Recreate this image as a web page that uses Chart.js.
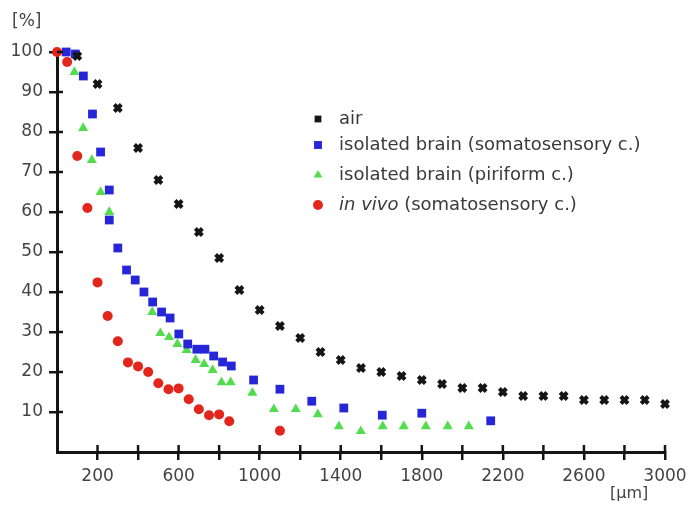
<!DOCTYPE html>
<html><head><meta charset="utf-8">
<script src="https://cdn.jsdelivr.net/npm/chart.js@4"></script>
<style>html,body{margin:0;padding:0;background:#fff}#wrap{width:690px;height:507px}</style>
</head><body><div id="wrap"><canvas id="c" width="690" height="507"></canvas></div>
<script>
const airX = [100,200,300,400,500,600,700,800,900,1000,1100,1200,1300,1400,1500,1600,1700,1800,1900,2000,2100,2200,2300,2400,2500,2600,2700,2800,2900,3000];
const airY = [99,92,86,76,68,62,55,48.5,40.5,35.5,31.5,28.5,25,23,21,20,19,18,17,16,16,15,14,14,14,13,13,13,13,12];
const blueX = [45,90,130,175,215,258,258,300,343,386,429,472,516,558,601,645,690,730,773,817,860,970,1100,1257,1415,1605,1800,2140];
const blueY = [100,99.5,94,84.5,75,65.5,58,51,45.5,43,40,37.5,35,33.5,29.5,27,25.7,25.7,24,22.5,21.5,18,15.7,12.7,11,9.2,9.7,7.8];
const greenX = [86,129,172,215,258,470,510,553,594,640,684,726,768,812,857,964,1070,1178,1287,1391,1499,1607,1711,1820,1928,2032];
const greenY = [95,81,73,65,60,35,29.7,28.7,27,25.5,23,22,20.5,17.4,17.4,14.8,10.7,10.7,9.4,6.4,5.2,6.4,6.4,6.4,6.4,6.4];
const redX = [0,50,100,150,200,250,300,350,400,450,500,550,600,650,700,750,800,850,1100];
const redY = [100,97.5,74,61,42.4,34,27.7,22.4,21.4,20,17.2,15.7,15.9,13.2,10.7,9.2,9.4,7.7,5.3];
const xLabels = [200,600,1000,1400,1800,2200,2600,3000];
const yLabels = [10,20,30,40,50,60,70,80,90,100];
const seriesNames = ['air','isolated brain (somatosensory c.)','isolated brain (piriform c.)','in vivo'];

const C_BLACK='#151515', C_BLUE='#2626d8', C_GREEN='#52dc4e', C_RED='#e2261c';
const pts=(xs,ys)=>xs.map((x,i)=>({x:x,y:ys[i]}));
const FONT='"DejaVu Sans", sans-serif';

const styles = [
  {label:seriesNames[0], color:C_BLACK, pointStyle:'crossRot', radius:5, bw:4},
  {label:seriesNames[1], color:C_BLUE, pointStyle:'rect', radius:6.2, bw:0},
  {label:seriesNames[2], color:C_GREEN, pointStyle:'triangle', radius:5.8, bw:0},
  {label:seriesNames[3], color:C_RED, pointStyle:'circle', radius:5, bw:0}
];
function ds(i,data){const s=styles[i];return {label:s.label,data:data,showLine:false,clip:false,
  pointStyle:s.pointStyle,pointRadius:s.radius,pointHoverRadius:s.radius,
  backgroundColor:s.color,borderColor:s.color,pointBorderWidth:s.bw};}

const extras = {
  id:'extras',
  afterDraw(chart){
    const ctx=chart.ctx, xs=chart.scales.x, ys=chart.scales.y;
    ctx.save();
    ctx.strokeStyle='#151515'; ctx.lineWidth=2.5;
    for(let v=200; v<=3000; v+=200){const px=xs.getPixelForValue(v);ctx.beginPath();ctx.moveTo(px,ys.bottom);ctx.lineTo(px,ys.bottom-7);ctx.stroke();}
    yLabels.forEach(v=>{const py=ys.getPixelForValue(v);ctx.beginPath();ctx.moveTo(xs.left,py);ctx.lineTo(xs.left+6,py);ctx.stroke();});
    ctx.fillStyle='#444'; ctx.textBaseline='middle'; ctx.textAlign='left';
    ctx.font='17px '+FONT;
    ctx.fillText('[%]',12,22);
    ctx.font='16px '+FONT;
    ctx.fillText('[\u00b5m]',610,494);
    const lx=318, rows=[119,145,175,205];
    styles.forEach((s,i)=>{
      ctx.fillStyle=s.color; ctx.strokeStyle=s.color;
      const st=s.pointStyle==='crossRot'?'rect':s.pointStyle;
      const r=s.pointStyle==='crossRot'?4.8:(s.pointStyle==='rect'?5.6:5);
      Chart.helpers.drawPoint(ctx,{pointStyle:st,radius:r,rotation:0,borderWidth:0},lx,rows[i]);
    });
    ctx.fillStyle='#3a3a3a'; ctx.textAlign='left'; ctx.textBaseline='middle';
    const tx=339;
    ctx.font='18px '+FONT;
    ctx.fillText(seriesNames[0],tx,rows[0]);
    ctx.fillText(seriesNames[1],tx,rows[1]);
    ctx.fillText(seriesNames[2],tx,rows[2]);
    ctx.font='italic 18px '+FONT;
    ctx.fillText(seriesNames[3],tx,rows[3]);
    const w=ctx.measureText(seriesNames[3]).width;
    ctx.font='18px '+FONT;
    ctx.fillText(' (somatosensory c.)',tx+w,rows[3]);
    ctx.restore();
  }
};

new Chart(document.getElementById('c'),{
  type:'scatter',
  data:{datasets:[ds(3,pts(redX,redY)),ds(0,pts(airX,airY)),ds(1,pts(blueX,blueY)),ds(2,pts(greenX,greenY))]},
  options:{
    responsive:false, animation:false, devicePixelRatio:1,
    layout:{padding:{top:52,right:25,left:0,bottom:0}},
    plugins:{legend:{display:false},tooltip:{enabled:false}},
    scales:{
      x:{type:'linear',min:0,max:3000,
        afterFit(s){s.height=55;s.paddingLeft=0;s.paddingRight=0;},
        ticks:{stepSize:200,autoSkip:false,maxRotation:0,padding:6,color:'#444',font:{family:FONT,size:17},
          callback:v=>xLabels.includes(v)?String(v):''},
        grid:{drawOnChartArea:false,drawTicks:true,tickLength:8,lineWidth:2.5,color:c=>(c.tick&&c.tick.value===0)?'rgba(0,0,0,0)':'#151515'},
        border:{display:true,width:3,color:'#151515'}},
      y:{type:'linear',min:0,max:100,
        afterFit(s){s.width=57;s.paddingTop=0;s.paddingBottom=0;},
        ticks:{stepSize:10,padding:6,color:'#444',font:{family:FONT,size:17},
          callback:v=>yLabels.includes(v)?String(v):''},
        grid:{drawOnChartArea:false,drawTicks:true,tickLength:8,lineWidth:2.5,color:c=>(c.tick&&c.tick.value===0)?'rgba(0,0,0,0)':'#151515'},
        border:{display:true,width:3,color:'#151515'}}
    }
  },
  plugins:[extras]
});
</script></body></html>
